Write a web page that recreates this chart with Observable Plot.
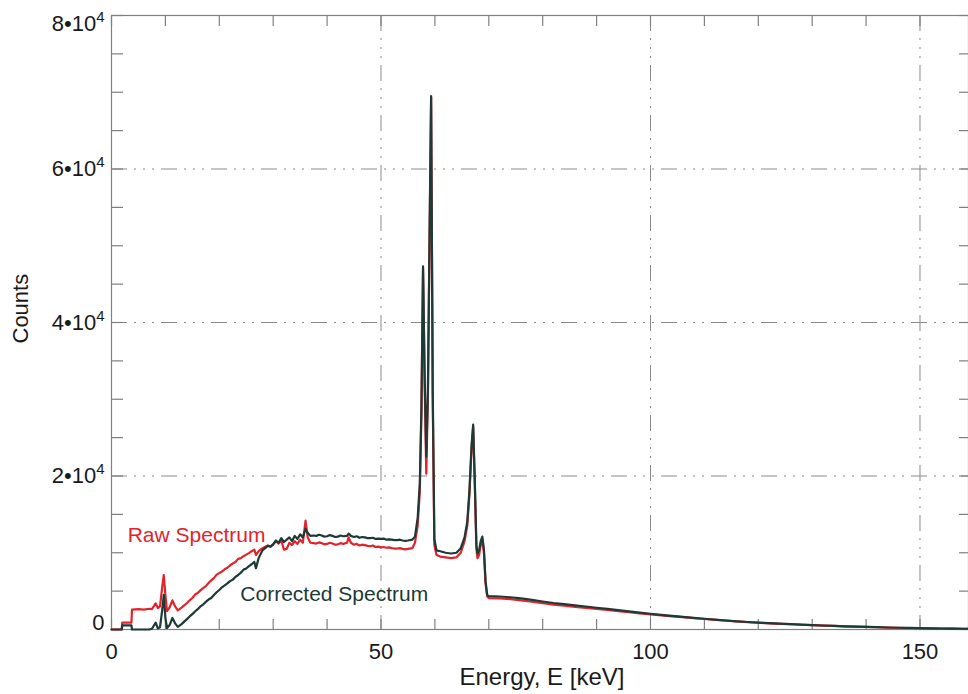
<!DOCTYPE html>
<html><head><meta charset="utf-8">
<script src="https://cdn.jsdelivr.net/npm/d3@7"></script>
<script src="https://cdn.jsdelivr.net/npm/@observablehq/plot@0.6"></script>
<style>html,body{margin:0;padding:0;background:#fff;overflow:hidden}</style>
</head><body><div id="chart"></div>
<script>
// Energy grid (keV)
const energy = [
  // low-energy region
  0, 1.9, 2.0, 3.7, 3.8, 5, 6, 7, 7.5, 8.2, 8.6, 9.0, 9.4, 9.7, 10.0, 10.3, 10.8, 11.3, 11.8, 12.3, 13,
  // rising continuum
  14, 14.5, 15, 15.5, 16, 16.5, 17, 17.5, 18, 18.5, 19, 19.5, 20, 20.5, 21, 21.5, 22, 22.5, 23, 23.5, 24, 24.5, 25, 25.5, 26,
  26.5, 26.8, 27.3, 28, 29, 29.5, 30, 30.5, 31, 31.5, 32, 32.5, 33, 33.5, 34, 34.5, 35, 35.5, 36.0, 36.4, 36.9,
  // plateau
  37.5, 38, 38.5, 39, 39.5, 40, 40.5, 41, 41.5, 42, 42.5, 43, 43.7, 44.0, 44.4, 45, 45.5, 46, 46.5, 47, 47.5,
  48, 48.5, 49, 49.5, 50, 50.5, 51, 51.5, 52, 52.5, 53, 53.5, 54, 54.5, 55, 55.8,
  // peaks
  56.3, 56.8, 57.2, 57.5, 57.8, 58.1, 58.4, 58.7, 59.0, 59.3, 59.6, 59.9, 60.3, 61, 62, 63, 64, 64.8,
  65.5, 66.0, 66.4, 66.8, 67.1, 67.4, 67.7, 67.9, 68.2, 68.5, 68.8, 69.1, 69.4, 69.7,
  // tail
  70, 72, 74, 76, 78, 80, 82, 84, 86, 88, 90, 92, 94, 96, 98, 100, 102, 104, 106, 108, 110,
  112, 114, 116, 118, 120, 122, 124, 126, 128, 130, 132, 134, 136, 138, 140, 142, 144, 146, 148, 150,
  152, 154, 156, 158, 160
];
const rawCounts = [
  0, 0, 900, 900, 2600, 2650, 2600, 2700, 2650, 3400, 2800, 3000, 5500, 7100, 4500, 2400, 2900, 3800, 3000, 2500, 2850,
  3450, 3800, 4100, 4550, 4750, 5100, 5400, 5650, 6050, 6400, 6700, 7150, 7350, 7550, 7850, 8050, 8350, 8600, 8800, 9200, 9300, 9550, 9750, 9950, 10200,
  10400, 9700, 10200, 10600, 10950, 10800, 11100, 11500, 11200, 11600, 10400, 10500, 11300, 11000, 11500, 11150, 11700, 11300, 14200, 12000, 11300,
  11250, 11200, 11350, 11250, 11100, 11150, 11300, 11200, 11050, 11100, 11250, 11150, 11300, 12000, 11300, 11050, 11150, 10950, 11050, 11000, 10900,
  10850, 10950, 10750, 10800, 10700, 10750, 10650, 10700, 10600, 10550, 10550, 10600, 10500, 10450, 10500, 10600,
  11300, 13500, 18000, 28000, 47000, 32000, 20300, 30000, 50000, 69300, 30000, 11000, 9700, 9500, 9400, 9300, 9400, 10000,
  11500, 13500, 17500, 23500, 26400, 19000, 10500, 9300, 9700, 11000, 11700, 10000, 6000, 4300,
  4100, 4050, 3950, 3800, 3620, 3430, 3250, 3100, 2960, 2820, 2670, 2540, 2400, 2260, 2110, 1970, 1830, 1720, 1600, 1480, 1370,
  1260, 1150, 1050, 960, 880, 810, 745, 685, 620, 560, 510, 460, 410, 370, 330, 290, 255, 225, 195, 165,
  145, 125, 108, 98, 88
];
const correctedCounts = [
  0, 0, 550, 550, 0, 0, 0, 0, 100, 900, 150, 300, 2500, 4500, 1500, 200, 600, 1500, 800, 350, 700,
  1350, 1700, 2000, 2350, 2650, 3000, 3250, 3600, 3900, 4100, 4500, 4850, 5150, 5500, 5750, 6000, 6300, 6500, 6850, 7100, 7400, 7800, 7950, 8250, 8500,
  8800, 8000, 9300, 10300, 10900, 10800, 11100, 11600, 11300, 11900, 11400, 11700, 12000, 11500, 12200, 11800, 12400, 12000, 13100, 12600, 12200,
  12250, 12200, 12350, 12250, 12100, 12150, 12300, 12200, 12050, 12100, 12250, 12150, 12200, 12500, 12200, 12050, 12150, 11950, 12050, 12000, 11900,
  11900, 11950, 11800, 11850, 11800, 11850, 11700, 11750, 11700, 11650, 11650, 11700, 11600, 11550, 11600, 11700,
  12100, 14500, 19000, 29000, 47300, 33000, 22500, 31000, 51000, 69500, 31000, 11800, 10300, 10200, 10000, 9900, 10000, 10600,
  12000, 14000, 18000, 24000, 26700, 19500, 11000, 9900, 10300, 11500, 12100, 10400, 6300, 4500,
  4350, 4300, 4200, 4050, 3850, 3650, 3450, 3300, 3150, 3000, 2830, 2680, 2520, 2370, 2200, 2050, 1900, 1780, 1650, 1520, 1400,
  1290, 1170, 1070, 980, 900, 830, 760, 700, 630, 570, 520, 470, 420, 380, 340, 300, 260, 230, 200, 170,
  150, 130, 110, 100, 90
];

const seriesNames = ["Raw Spectrum", "Corrected Spectrum"];
const seriesColors = ["#e3232b", "#1c3a36"];
const seriesLabelX = [3.0, 23.9];
const seriesLabelY = [12250, 4560];

const xMajorTicks = [0, 50, 100, 150];
const xTickLabels = ["0", "50", "100", "150"];
const xAllTicks = [0, 10, 20, 30, 40, 50, 60, 70, 80, 90, 100, 110, 120, 130, 140, 150];
const xGridTicks = [50, 100, 150];
const yMajorTicks = [0, 20000, 40000, 60000, 80000];
const yTickLabels = ["0", "2•10⁴", "4•10⁴", "6•10⁴", "8•10⁴"];
const yAllTicks = [0, 5000, 10000, 15000, 20000, 25000, 30000, 35000, 40000, 45000, 50000, 55000, 60000, 65000, 70000, 75000, 80000];
const yGridTicks = [20000, 40000, 60000];
const xTitle = "Energy, E [keV]";
const yTitle = "Counts";

const spectrum = energy.map((e, i) => ({e, raw: rawCounts[i], corr: correctedCounts[i]}));
const yLabelData = yMajorTicks.map((v, i) => ({v, t: yTickLabels[i]}));
const xLabelData = xMajorTicks.map((v, i) => ({v, t: xTickLabels[i]}));
const seriesLabels = seriesNames.map((n, i) => ({n, x: seriesLabelX[i], y: seriesLabelY[i], c: seriesColors[i]}));

const gridStyle = {stroke: "#8a8a8a", strokeWidth: 1, strokeOpacity: 1, strokeDasharray: "16,7,2,7,2,7,2,7"};
const tickStyle = {stroke: "#808080", strokeWidth: 1.2, tickFormat: () => "", label: null};
const font = "Liberation Sans, Arial, Helvetica, sans-serif";
const ink = "#1a1a1a";

const chart = Plot.plot({
  width: 968,
  height: 694,
  marginLeft: 111,
  marginRight: 0,
  marginTop: 15,
  marginBottom: 65,
  style: {fontFamily: font, background: "white", color: ink},
  x: {domain: [0, 159]},
  y: {domain: [0, 80000]},
  marks: [
    Plot.ruleX(xGridTicks, {x: d => d, ...gridStyle}),
    Plot.ruleY(yGridTicks, {y: d => d, ...gridStyle}),
    Plot.frame({stroke: "#808080", strokeWidth: 1.2}),
    Plot.axisX({anchor: "bottom", ticks: xAllTicks, tickSize: 10, dy: -10, ...tickStyle}),
    Plot.axisX({anchor: "top", ticks: xAllTicks, tickSize: 10, dy: 10, ...tickStyle}),
    Plot.axisY({anchor: "left", ticks: yAllTicks, tickSize: 12, dx: 12, ...tickStyle}),
    Plot.axisY({anchor: "right", ticks: yAllTicks, tickSize: 10, dx: -10, ...tickStyle}),
    Plot.line(spectrum, {x: "e", y: "raw", stroke: seriesColors[0], strokeWidth: 2.2, curve: "linear"}),
    Plot.line(spectrum, {x: "e", y: "corr", stroke: seriesColors[1], strokeWidth: 2.2, curve: "linear"}),
    Plot.text(seriesLabels, {x: "x", y: "y", text: "n", fill: "c", textAnchor: "start", fontSize: 21}),
    Plot.text(yLabelData.filter(d => d.v > 0 && d.v < 80000), {y: "v", text: "t", frameAnchor: "left", dx: -7, textAnchor: "end", fontSize: 22, fill: ink}),
    Plot.text(yLabelData.filter(d => d.v === 0), {y: "v", text: "t", frameAnchor: "left", dx: -7, dy: -7, textAnchor: "end", fontSize: 22, fill: ink}),
    Plot.text(yLabelData.filter(d => d.v === 80000), {y: "v", text: "t", frameAnchor: "left", dx: -7, dy: 8, textAnchor: "end", fontSize: 22, fill: ink}),
    Plot.text(xLabelData, {x: "v", text: "t", frameAnchor: "bottom", dy: 29, fontSize: 22, fill: ink}),
    Plot.text([xTitle], {text: d => d, frameAnchor: "bottom", dy: 55, dx: 2, fontSize: 24, fill: ink}),
    Plot.text([yTitle], {text: d => d, frameAnchor: "left", dx: -91, dy: 21, rotate: -90, fontSize: 22, fill: ink})
  ]
});

// Render the exponent of the tick labels as a raised superscript
const svgNS = "http://www.w3.org/2000/svg";
chart.querySelectorAll("text").forEach(t => {
  const s = t.textContent;
  if (s.endsWith("⁴") && t.children.length === 0) {
    t.textContent = s.slice(0, -1);
    const sup = document.createElementNS(svgNS, "tspan");
    sup.setAttribute("dy", "-0.6em");
    sup.setAttribute("font-size", "15");
    sup.textContent = "4";
    t.appendChild(sup);
  }
});
document.getElementById("chart").appendChild(chart);
</script>
</body></html>
